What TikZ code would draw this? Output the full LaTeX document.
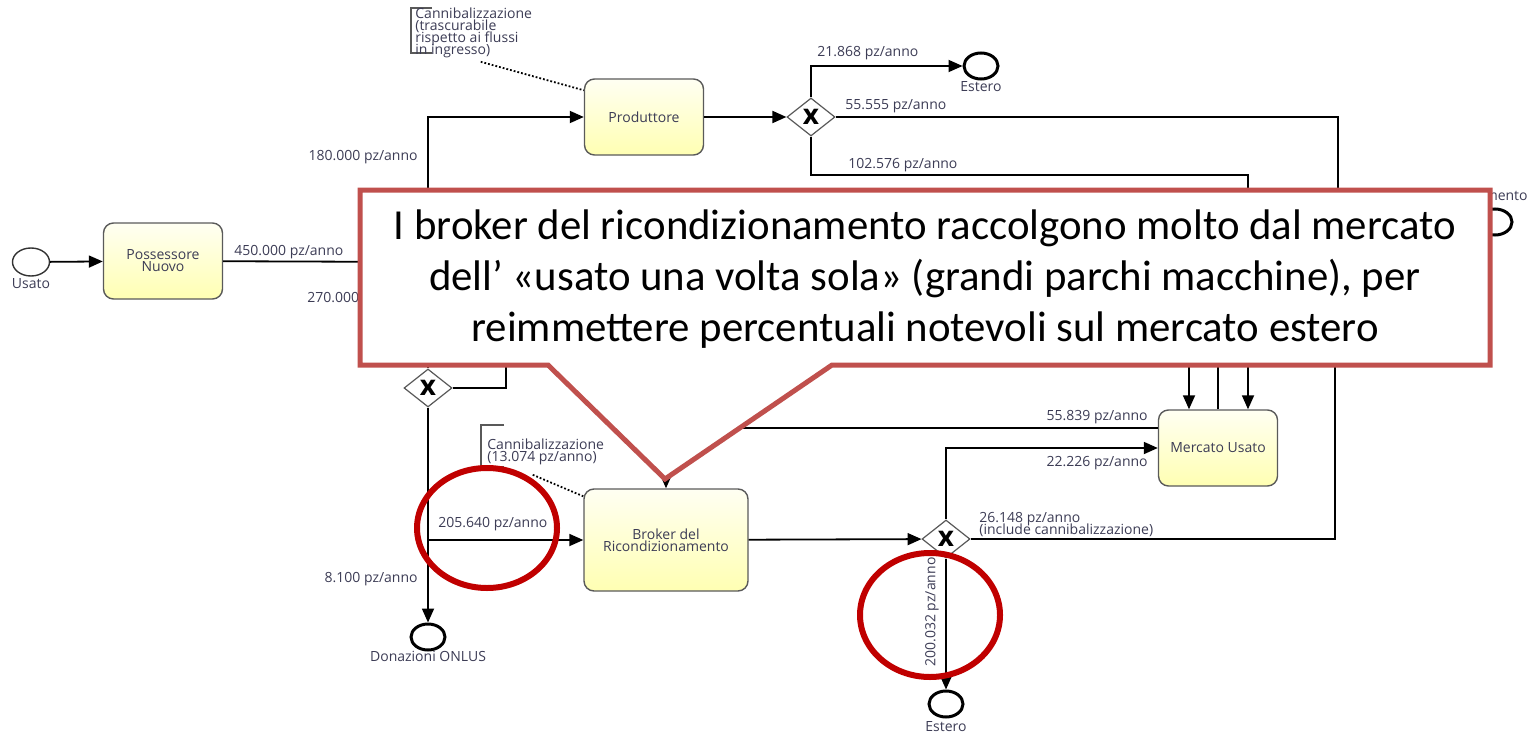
\documentclass[tikz,border=0pt]{standalone}
\usepackage{fontspec}
\setmainfont{Open Sans}
\newfontfamily\calfont{Carlito}
\usetikzlibrary{arrows.meta,shapes.geometric}
\definecolor{boxline}{RGB}{90,90,90}
\definecolor{txtcol}{RGB}{60,60,85}
\definecolor{calloutred}{RGB}{192,80,77}
\definecolor{markred}{RGB}{192,0,0}

\begin{document}
\begin{tikzpicture}[x=0.5pt,y=-0.5pt]
        \tikzstyle{task}=[rectangle, rounded corners=5pt, draw=boxline, line width=0.7pt, top color=yellow!5, bottom color=yellow!30, minimum width=59.5pt, minimum height=38pt, align=center, text=txtcol, font=\fontsize{7}{6}\selectfont]
        \tikzstyle{gate}=[diamond, draw=gray!70!black, fill=white, line width=0.6pt, minimum width=24pt, minimum height=19pt, inner sep=0pt, font=\fontsize{14}{14}\selectfont\bfseries]
        \tikzstyle{startev}=[ellipse, draw=black!80, line width=0.7pt, fill=white, minimum width=18.5pt, minimum height=14pt, inner sep=0pt]
        \tikzstyle{endev}=[ellipse, draw=black, line width=1.5pt, fill=white, minimum width=17pt, minimum height=13pt, inner sep=0pt]
        \tikzstyle{flow}=[line width=0.9pt]
        \tikzstyle{arr}=[flow, -{Triangle[length=7pt,width=6pt]}]
        \tikzstyle{lbl}=[text=txtcol, font=\fontsize{7}{6}\selectfont, inner sep=0pt]
        \tikzstyle{note}=[lbl, align=left, anchor=north west, font={\fontsize{7}{6}\selectfont\lineskiplimit=-5pt}]
        \tikzstyle{ring}=[draw=markred, line width=3pt]
        \useasboundingbox (0,0) rectangle (1530,733);

        % events, tasks, gateways
        \node[startev] (usato) at (31,262) {};
        \node[task] (poss) at (163,261) {Possessore\\Nuovo};
        \node[task] (prod) at (644,117) {Produttore};
        \node[task, minimum width=82pt, minimum height=51pt] (broker) at (666,540) {Broker del\\Ricondizionamento};
        \node[task] (mercato) at (1218,448) {Mercato Usato};
        \node[gate] (g1) at (428,388) {x};
        \node[gate] (g2) at (946,539) {x};
        \node[gate] (g3) at (811,117) {x};
        \node[endev] (est1) at (981,66) {};
        \node[endev] (est2) at (946,704) {};
        \node[endev] (onlus) at (428,637) {};
        \node[endev] (smalt) at (1495,222) {};

        % junctions (partly under the callout)
        \coordinate (j1) at (428,262);
        \coordinate (j2) at (428,540);
        \coordinate (h1) at (506,362);
        \coordinate (h2) at (1338,200);
        \coordinate (h3) at (700,428);
        \coordinate (h4) at (1335,362);
        \coordinate (h5) at (666,400);
        \coordinate (m1) at (1189,362);
        \coordinate (m2) at (1218,362);
        \coordinate (m3) at (1248,362);

        % flows
        \draw[arr] (usato) -- (poss);
        \draw[flow] (poss) -- (j1);
        \draw[arr] (j1) |- (prod);
        \draw[flow] (j1) -- (g1);
        \draw[arr] (g1) -- (onlus);
        \draw[arr] (j2) -- (broker);
        \draw[flow] (g1) -| (h1);
        \draw[arr] (prod) -- (g3);
        \draw[arr] (g3) |- (est1);
        \draw[flow] (g3) -| (h2);
        \draw[arr] (g3) -- ++(0,58) -| (m3) -- (m3 |- mercato.north);
        \draw[arr] (m1) -- (m1 |- mercato.north);
        \draw[flow] (mercato.north) -- (m2);
        \draw[flow] (h3) -- (h3 -| mercato.west);
        \draw[arr] (g2) |- (mercato);
        \draw[arr] (broker) -- (g2);
        \draw[arr] (g2) -- (est2);
        \draw[flow] (g2) -| (h4);
        \draw[arr] (h5) -- (broker);

        % labels
        \node[lbl, anchor=base] (l0) at (31,288) {Usato};
        \node[lbl, anchor=base] (l1) at (981,91) {Estero};
        \node[lbl, anchor=base] (l2) at (946,731) {Estero};
        \node[lbl, anchor=base] (l3) at (428,661) {Donazioni ONLUS};
        \node[lbl, anchor=base east] (l4) at (1528,200) {mento};
        \node[lbl, anchor=base west] (f1) at (234,255) {450.000 pz/anno};
        \node[lbl, anchor=base east] (f2) at (418,160) {180.000 pz/anno};
        \node[lbl, anchor=base west] (f3) at (307,302) {270.000 pz/anno};
        \node[lbl, anchor=base west] (f4) at (817,57) {21.868 pz/anno};
        \node[lbl, anchor=base west] (f5) at (845,110) {55.555 pz/anno};
        \node[lbl, anchor=base west] (f6) at (848,169) {102.576 pz/anno};
        \node[lbl, anchor=base east] (f7) at (1148,420) {55.839 pz/anno};
        \node[lbl, anchor=base east] (f8) at (1148,466) {22.226 pz/anno};
        \node[note] (f9) at (979,512) {26.148 pz/anno\\(include cannibalizzazione)};
        \node[lbl, rotate=90] (f10) at (932,612) {200.032 pz/anno};
        \node[lbl, anchor=base west] (f11) at (438,527) {205.640 pz/anno};
        \node[lbl, anchor=base east] (f12) at (418,582) {8.100 pz/anno};

        % annotations
        \draw[line width=0.6pt, draw=gray!70!black] (432,8) -- (411,8) -- (411,53) -- (432,53);
        \node[note] (ann1) at (415,7) {Cannibalizzazione\\(trascurabile\\rispetto ai flussi\\in ingresso)};
        \draw[densely dotted, line width=0.9pt] ([xshift=3.5pt,yshift=-2pt]ann1.south) -- ([yshift=-6pt]prod.north west);
        \draw[line width=0.6pt, draw=gray!70!black] (504,425) -- (481,425) -- (481,467) -- (504,467);
        \node[note] (ann2) at (487,438) {Cannibalizzazione\\(13.074 pz/anno)};
        \draw[densely dotted, line width=0.9pt] ([xshift=-6.5pt,yshift=-5pt]ann2.south) -- ([yshift=-4pt]broker.north west);

        % callout
        \draw[draw=calloutred, line width=2.5pt, fill=white] (360,190) -- (1490,190) -- (1490,365) -- (832,365) -- (665,479) -- (548,365) -- (360,365) -- cycle;
        \node[font=\calfont\fontsize{21.4}{25.5}\selectfont, align=center] (msg) at (925,279) {I broker del ricondizionamento raccolgono molto dal mercato\\dell’ «usato una volta sola» (grandi parchi macchine), per\\reimmettere percentuali notevoli sul mercato estero};

        % highlight rings
        \draw[ring] (487,528) ellipse [x radius=35pt, y radius=30pt];
        \draw[ring] (930,615) ellipse [x radius=35pt, y radius=31pt];
    \end{tikzpicture}
\end{document}
